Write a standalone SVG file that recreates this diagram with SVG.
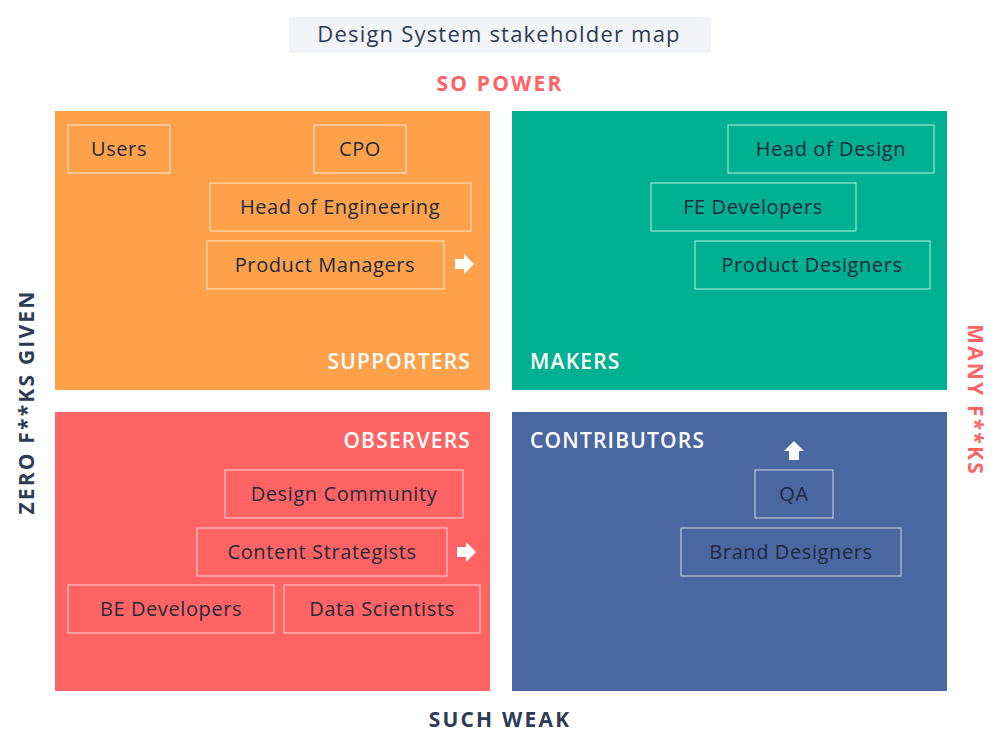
<svg xmlns="http://www.w3.org/2000/svg" width="1000" height="756" viewBox="0 0 1000 756">
<style>
text{font-family:"Open Sans","Noto Sans",sans-serif}
.box{fill:none;stroke:#fff;stroke-opacity:0.75;stroke-width:1}
.bt{font-size:20px;fill:#1f2a3c;text-anchor:middle;letter-spacing:0.6px}
.ql{font-size:21px;fill:#fff;font-weight:600;letter-spacing:1.2px}
.ax{font-size:21px;font-weight:700;letter-spacing:2.2px;text-anchor:middle}
</style>
<rect x="289" y="17" width="422" height="36" fill="#f3f4f7"/>
<text x="499" y="42" font-size="22" fill="#2e3b55" text-anchor="middle" letter-spacing="1.2">Design System stakeholder map</text>
<text class="ax" x="500" y="91" fill="#ff6363">SO POWER</text>
<text class="ax" x="500" y="727" fill="#2e3b55">SUCH WEAK</text>
<text class="ax" transform="translate(34,402) rotate(-90)" fill="#2e3b55">ZERO F**KS GIVEN</text>
<text class="ax" transform="translate(968,400) rotate(90)" fill="#ff6363">MANY F**KS</text>
<g id="supporters">
<rect x="55" y="111" width="435" height="279" fill="#fda14b"/>
<text class="ql" x="471" y="369" text-anchor="end">SUPPORTERS</text>
</g>
<g id="makers">
<rect x="512" y="111" width="435" height="279" fill="#00b092"/>
<text class="ql" x="530" y="369">MAKERS</text>
</g>
<g id="observers">
<rect x="55" y="412" width="435" height="279" fill="#ff6363"/>
<text class="ql" x="471" y="448" text-anchor="end">OBSERVERS</text>
</g>
<g id="contributors">
<rect x="512" y="412" width="435" height="279" fill="#4b67a1"/>
<text class="ql" x="530" y="448">CONTRIBUTORS</text>
</g>
<g id="users"><rect class="box" x="68" y="125" width="102" height="48"/><text class="bt" x="119" y="156">Users</text></g>
<g id="cpo"><rect class="box" x="314" y="125" width="92" height="48"/><text class="bt" x="360" y="156">CPO</text></g>
<g id="hoe"><rect class="box" x="210" y="183" width="261" height="48"/><text class="bt" x="340" y="214">Head of Engineering</text></g>
<g id="pm"><rect class="box" x="207" y="241" width="237" height="48"/><text class="bt" x="325" y="272">Product Managers</text></g>
<g id="hod"><rect class="box" x="728" y="125" width="206" height="48"/><text class="bt" x="831" y="156">Head of Design</text></g>
<g id="fe"><rect class="box" x="651" y="183" width="205" height="48"/><text class="bt" x="753" y="214">FE Developers</text></g>
<g id="pd"><rect class="box" x="695" y="241" width="235" height="48"/><text class="bt" x="812" y="272">Product Designers</text></g>
<g id="dc"><rect class="box" x="225" y="470" width="238" height="48"/><text class="bt" x="344" y="501">Design Community</text></g>
<g id="cs"><rect class="box" x="197" y="528" width="250" height="48"/><text class="bt" x="322" y="559">Content Strategists</text></g>
<g id="be"><rect class="box" x="68" y="585" width="206" height="48"/><text class="bt" x="171" y="616">BE Developers</text></g>
<g id="ds"><rect class="box" x="284" y="585" width="196" height="48"/><text class="bt" x="382" y="616">Data Scientists</text></g>
<g id="qa"><rect class="box" x="755" y="470" width="78" height="48"/><text class="bt" x="794" y="501">QA</text></g>
<g id="bd"><rect class="box" x="681" y="528" width="220" height="48"/><text class="bt" x="791" y="559">Brand Designers</text></g>
<g id="connectors" fill="#fff">
<polygon points="455,259 464,259 464,254 474,264 464,274 464,269 455,269"/>
<polygon points="457,547 466,547 466,542 476,552 466,562 466,557 457,557"/>
<polygon points="789,460 789,451 784,451 794,441 804,451 799,451 799,460"/>
</g>
</svg>
